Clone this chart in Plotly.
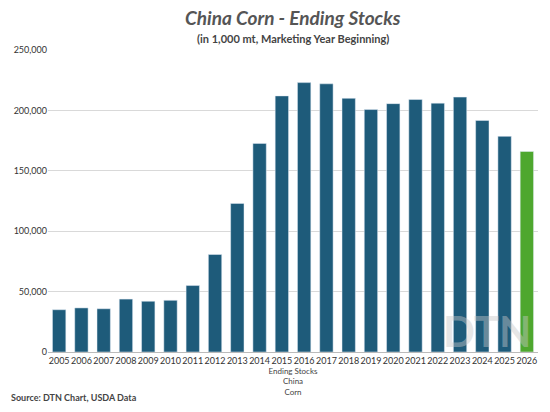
import plotly.graph_objects as go

years = [str(y) for y in range(2005, 2027)]
stocks = [35000, 36500, 35800, 43800, 42000, 42800, 55000, 80700, 123000, 172700, 212000, 223000, 222000, 210000, 200700, 205600, 209000, 206000, 211000, 191700, 178500, 166000]
colors = ["#1e5b7a"] * (len(years) - 1) + ["#4ea72e"]

fig = go.Figure(go.Bar(x=years, y=stocks, marker_color=colors, width=0.6))
fig.update_layout(
    width=534, height=396, plot_bgcolor="white", paper_bgcolor="white",
    margin=dict(l=40, r=4, t=42, b=52),
    showlegend=False, font=dict(family="Lato", color="#444"),
)
fig.add_annotation(text="<b><i>China Corn - Ending Stocks</i></b>", xref="paper", yref="paper",
                   x=0.5, y=1.0, yshift=19, yanchor="bottom", showarrow=False,
                   font=dict(size=19, color="#555"))
fig.add_annotation(text="<b>(in 1,000 mt, Marketing Year Beginning)</b>", xref="paper", yref="paper",
                   x=0.5, y=1.0, yshift=3, yanchor="bottom", showarrow=False,
                   font=dict(size=11, color="#444"))
fig.update_xaxes(tickfont=dict(size=9, color="#333"), showline=True, linecolor="#bbb", tickangle=0,
                 title=dict(text="Ending Stocks<br>China<br>Corn", font=dict(size=8), standoff=3))
fig.update_yaxes(range=[0, 250000], dtick=50000, tickformat=",", gridcolor="#d9d9d9",
                 tickfont=dict(size=9, color="#333"), zeroline=False)
fig.add_annotation(text="<b>Source: DTN Chart, USDA Data</b>", xref="paper", yref="paper",
                   x=-0.08, y=-0.175, xanchor="left", yanchor="bottom", showarrow=False,
                   font=dict(size=9, color="#444"))
fig.add_annotation(text="<b>DTN</b>", xref="paper", yref="paper", x=0.99, y=-0.02,
                   xanchor="right", yanchor="bottom", showarrow=False,
                   font=dict(size=42, color="rgba(200,200,200,0.45)"))
fig.write_html("out.html")
